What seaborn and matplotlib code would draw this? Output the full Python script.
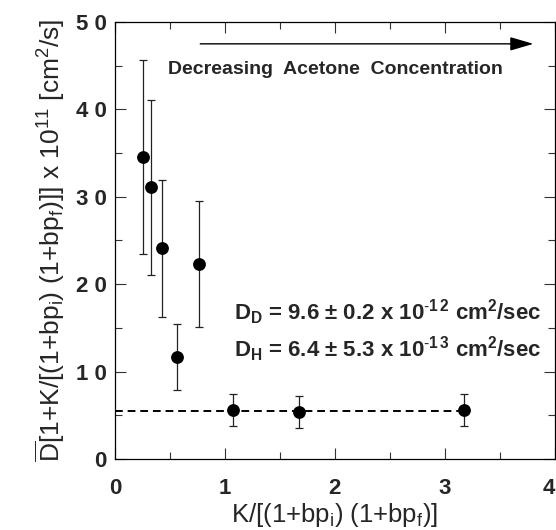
import matplotlib
matplotlib.use("Agg")
import matplotlib.pyplot as plt
import seaborn as sns
import pandas as pd
from matplotlib.ticker import MultipleLocator

# Measured points
k_ratio = [0.255, 0.328, 0.426, 0.565, 0.76, 1.073, 1.674, 3.17]
d_eff = [34.5, 31.1, 24.1, 11.7, 22.3, 5.6, 5.4, 5.6]
d_err = [11.1, 10.0, 7.8, 3.8, 7.2, 1.8, 1.8, 1.85]

# Fitted plateau
fit_x = [0.0, 3.2]
fit_y = [5.53, 5.53]

x_ticks = [0, 1, 2, 3, 4]
y_ticks = [0, 10, 20, 30, 40, 50]
y_tick_labels = ["0", "1 0", "2 0", "3 0", "4 0", "5 0"]

sns.set_theme(style="ticks")
plt.rcParams["font.family"] = ["Liberation Sans", "DejaVu Sans"]
plt.rcParams["mathtext.fontset"] = "custom"
plt.rcParams["mathtext.rm"] = "Liberation Sans"
plt.rcParams["mathtext.it"] = "Liberation Sans"
plt.rcParams["mathtext.bf"] = "Liberation Sans:bold"
plt.rcParams["mathtext.default"] = "regular"

fig = plt.figure(figsize=(5.56, 5.30), dpi=100)
ax = fig.add_axes([0.2068, 0.134, 0.7912, 0.8245])

df = pd.DataFrame({"x": k_ratio, "y": d_eff, "err": d_err})
fit = pd.DataFrame({"x": fit_x, "y": fit_y})

sns.lineplot(data=fit, x="x", y="y", ax=ax, color="black", linestyle=(0, (4, 2.5)),
             linewidth=1.4)
ax.errorbar(df["x"], df["y"], yerr=df["err"], fmt="none", ecolor="#222222",
            elinewidth=0.9, capsize=3, capthick=0.9, zorder=2)
sns.scatterplot(data=df, x="x", y="y", ax=ax, color="black", s=85,
                edgecolor="black", linewidth=0, zorder=3)

ax.set_xlim(0, 4)
ax.set_ylim(0, 50)
ax.set_xticks(x_ticks)
ax.set_xticklabels([str(t) for t in x_ticks], fontweight="bold", fontsize=16)
ax.set_yticks(y_ticks)
ax.set_yticklabels(y_tick_labels, fontweight="bold", fontsize=16)
ax.get_xticklabels()[-1].set_horizontalalignment("right")
ax.xaxis.set_minor_locator(MultipleLocator(0.5))
ax.yaxis.set_minor_locator(MultipleLocator(5))
ax.tick_params(which="both", direction="in", top=True, right=True, width=0.8,
               color="#333333")
ax.tick_params(which="major", length=8)
ax.tick_params(which="minor", length=5)
ax.tick_params(axis="y", pad=6)
ax.tick_params(axis="x", pad=14)
for sp in ax.spines.values():
    sp.set_linewidth(0.9)
    sp.set_color("black")

ax.set_xlabel(r"K/[(1+bp$_i$) (1+bp$_f$)]", fontsize=18.5, labelpad=1)
ax.set_ylabel(r"$\overline{\mathrm{D}}$[1+K/[(1+bp$_i$) (1+bp$_f$)]] x 10$^{11}$ [cm$^2$/s]",
              fontsize=19, labelpad=6)

ax.annotate("", xy=(3.83, 47.5), xytext=(0.75, 47.5),
            arrowprops=dict(arrowstyle="-|>,head_length=1.2,head_width=0.35",
                            color="black", lw=1.0))
ax.text(0.48, 44.6, "Decreasing  Acetone  Concentration", fontsize=14,
        fontweight="bold", va="center", ha="left")
ax.text(1.08, 16.8, r"D$_D$ = 9.6 $\pm$ 0.2 x 10$^{\text{-}1\,2}$ cm$^2$/sec",
        fontsize=16, fontweight="bold", va="center", ha="left")
ax.text(1.08, 12.5, r"D$_H$ = 6.4 $\pm$ 5.3 x 10$^{\text{-}1\,3}$ cm$^2$/sec",
        fontsize=16, fontweight="bold", va="center", ha="left")

fig.savefig("out.png", dpi=100)
